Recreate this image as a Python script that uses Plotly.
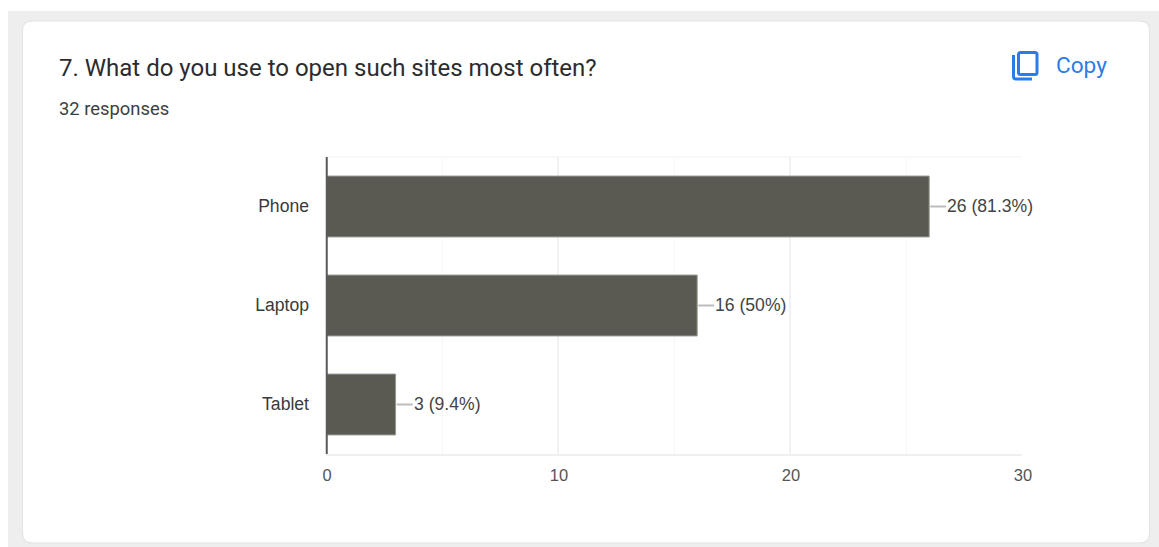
import plotly.graph_objects as go

# Survey results
categories = ["Phone", "Laptop", "Tablet"]
counts = [26, 16, 3]
value_labels = ["26 (81.3%)", "16 (50%)", "3 (9.4%)"]
x_ticks = [0, 10, 20, 30]
question = "7. What do you use to open such sites most often?"
responses = "32 responses"
copy_label = "Copy"

W, H = 1159, 547
L, R, T, B = 326, 1022, 157, 454
BLUE = "#2a7de9"


def px(x):
    return (x - L) / (R - L)


def py(y):
    return 1 - (y - T) / (B - T)


def rounded_rect(x0, y0, x1, y1, r):
    # SVG path for a rounded rectangle, given in page pixels
    return (
        f"M{px(x0 + r)},{py(y0)} L{px(x1 - r)},{py(y0)} "
        f"Q{px(x1)},{py(y0)} {px(x1)},{py(y0 + r)} "
        f"L{px(x1)},{py(y1 - r)} Q{px(x1)},{py(y1)} {px(x1 - r)},{py(y1)} "
        f"L{px(x0 + r)},{py(y1)} Q{px(x0)},{py(y1)} {px(x0)},{py(y1 - r)} "
        f"L{px(x0)},{py(y0 + r)} Q{px(x0)},{py(y0)} {px(x0 + r)},{py(y0)} Z"
    )


fig = go.Figure(
    go.Bar(
        y=categories,
        x=counts,
        orientation="h",
        marker=dict(color="#5a5a52", line=dict(color="#9a9a96", width=1)),
        hoverinfo="skip",
    )
)

shapes = [
    # page backdrop and card
    dict(type="rect", xref="paper", yref="paper", layer="below",
         x0=px(8), x1=px(W + 2), y0=py(11), y1=py(H + 2),
         fillcolor="#eeeeee", line_width=0),
    dict(type="path", xref="paper", yref="paper", layer="below",
         path=rounded_rect(22.5, 21, 1149.5, 543, 10),
         fillcolor="#ffffff", line=dict(color="#e2e2e4", width=1)),
    # top edge of the plot area
    dict(type="line", xref="paper", yref="paper", layer="below",
         x0=0, x1=1, y0=1, y1=1, line=dict(color="#f3f3f3", width=1)),
    # category axis baseline at zero
    dict(type="line", xref="paper", yref="paper", x0=px(326.75), x1=px(326.75), y0=0, y1=1,
         line=dict(color="#5a5a5a", width=2)),
    # copy icon
    dict(type="path", xref="paper", yref="paper",
         path=rounded_rect(1018.5, 52.5, 1037, 74.5, 2),
         line=dict(color=BLUE, width=3)),
    dict(type="path", xref="paper", yref="paper",
         path=(f"M{px(1013.5)},{py(55)} L{px(1013.5)},{py(76.5)} "
               f"Q{px(1013.5)},{py(79)} {px(1016)},{py(79)} L{px(1032)},{py(79)}"),
         line=dict(color=BLUE, width=3)),
]

annotations = [
    dict(xref="paper", yref="paper", x=px(57), y=py(68), text=question,
         showarrow=False, xanchor="left", yanchor="middle",
         font=dict(family="Roboto", size=24, color="#2b2c2f")),
    dict(xref="paper", yref="paper", x=px(57), y=py(108.5), text=responses,
         showarrow=False, xanchor="left", yanchor="middle",
         font=dict(family="Roboto", size=18.4, color="#3c4043")),
    dict(xref="paper", yref="paper", x=px(1054), y=py(65), text=copy_label,
         showarrow=False, xanchor="left", yanchor="middle",
         font=dict(family="Roboto", size=22.6, color=BLUE)),
]

# leader line and value label beside each bar
for cat, val, label in zip(categories, counts, value_labels):
    shapes.append(dict(type="line", xref="x", yref="y", xsizemode="pixel", xanchor=val,
                       x0=1, x1=17, y0=cat, y1=cat,
                       line=dict(color="#bcbcbc", width=2)))
    annotations.append(dict(x=val, y=cat, xref="x", yref="y", text=label, showarrow=False,
                            xanchor="left", yanchor="middle", xshift=16, yshift=1,
                            font=dict(family="Liberation Sans", size=17.6, color="#444444")))

fig.update_layout(
    width=W,
    height=H,
    margin=dict(l=L, r=W - R, t=T, b=H - B, pad=0),
    paper_bgcolor="#ffffff",
    plot_bgcolor="rgba(0,0,0,0)",
    showlegend=False,
    bargap=0.385,
    shapes=shapes,
    annotations=annotations,
    xaxis=dict(
        range=[0, 30],
        tickvals=x_ticks,
        gridcolor="#f2f2f2",
        gridwidth=1.5,
        zeroline=False,
        showline=True,
        linecolor="#efefef",
        linewidth=1.5,
        ticks="",
        ticklabelstandoff=5,
        ticklabelshift=1,
        tickfont=dict(family="Liberation Sans", size=16.5, color="#555555"),
        minor=dict(dtick=5, showgrid=True, gridcolor="#f7f7f7", gridwidth=1),
    ),
    yaxis=dict(
        categoryorder="array",
        categoryarray=categories[::-1],
        showgrid=False,
        zeroline=False,
        showline=False,
        ticks="",
        ticklabelstandoff=16,
        ticklabelshift=-1,
        tickfont=dict(family="Liberation Sans", size=17.6, color="#3a3a3a"),
    ),
)

fig.write_html("out.html", config=dict(displayModeBar=False))
